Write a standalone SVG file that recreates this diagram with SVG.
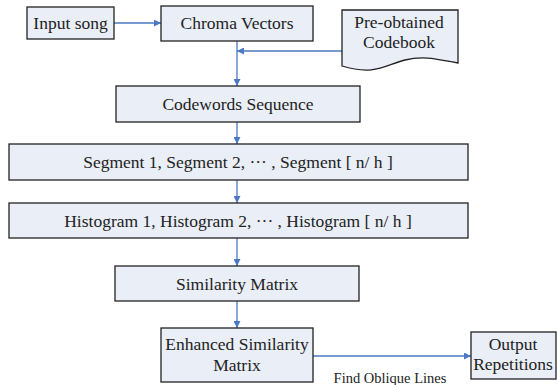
<svg xmlns="http://www.w3.org/2000/svg" width="557" height="385" viewBox="0 0 557 385">
<defs>
<style>
.box{fill:#e9eef7;stroke:#222;stroke-width:1.3}
.t{font-family:'Liberation Serif','DejaVu Serif',serif;font-size:17.5px;fill:#222;text-anchor:middle}
.s{font-size:14.5px}
.c{stroke:#4a78c2;stroke-width:1.3;fill:none}
</style>
<marker id="ah" viewBox="0 0 10 10" refX="10" refY="5" markerWidth="7" markerHeight="7" markerUnits="userSpaceOnUse" orient="auto">
<path d="M0,0 L10,5 L0,10 z" fill="#4a78c2"/>
</marker>
</defs>
<rect width="557" height="385" fill="#fff"/>
<g id="connectors">
<line class="c" x1="114" y1="23" x2="161" y2="23" marker-end="url(#ah)"/>
<line class="c" x1="237" y1="41" x2="237" y2="86" marker-end="url(#ah)"/>
<line class="c" x1="342" y1="51" x2="237" y2="51" marker-end="url(#ah)"/>
<line class="c" x1="237" y1="122" x2="237" y2="144" marker-end="url(#ah)"/>
<line class="c" x1="237" y1="180" x2="237" y2="203" marker-end="url(#ah)"/>
<line class="c" x1="237" y1="238" x2="237" y2="266" marker-end="url(#ah)"/>
<line class="c" x1="237" y1="301" x2="237" y2="328" marker-end="url(#ah)"/>
<line class="c" x1="313" y1="356" x2="471" y2="356" marker-end="url(#ah)"/>
<text class="t s" x="390" y="383">Find Oblique Lines</text>
</g>
<g id="input">
<rect class="box" x="27" y="7" width="87" height="32"/>
<text class="t" x="70.5" y="29">Input song</text>
</g>
<g id="chroma">
<rect class="box" x="161" y="6" width="152" height="35"/>
<text class="t" x="237" y="29">Chroma Vectors</text>
</g>
<g id="codebook">
<path class="box" d="M342,10 L458,10 L458,63 C440,60 425,55 405,60 C385,65 375,76 342,66 Z"/>
<text class="t" x="399" y="28">Pre-obtained</text>
<text class="t" x="399" y="48">Codebook</text>
</g>
<g id="codewords">
<rect class="box" x="116" y="86" width="244" height="36"/>
<text class="t" x="238" y="110">Codewords Sequence</text>
</g>
<g id="segments">
<rect class="box" x="9" y="144" width="459" height="36"/>
<text class="t" x="238" y="168">Segment 1, Segment 2, ··· , Segment [ n/ h ]</text>
</g>
<g id="histograms">
<rect class="box" x="9" y="203" width="459" height="35"/>
<text class="t" x="238" y="227">Histogram 1, Histogram 2, ··· , Histogram [ n/ h ]</text>
</g>
<g id="similarity">
<rect class="box" x="115" y="266" width="244" height="35"/>
<text class="t" x="237" y="290">Similarity Matrix</text>
</g>
<g id="enhanced">
<rect class="box" x="161" y="328" width="152" height="54"/>
<text class="t" x="237" y="350">Enhanced Similarity</text>
<text class="t" x="237" y="371">Matrix</text>
</g>
<g id="output">
<rect class="box" x="471" y="332" width="85" height="47"/>
<text class="t" x="513" y="350">Output</text>
<text class="t" x="513" y="370">Repetitions</text>
</g>
</svg>
